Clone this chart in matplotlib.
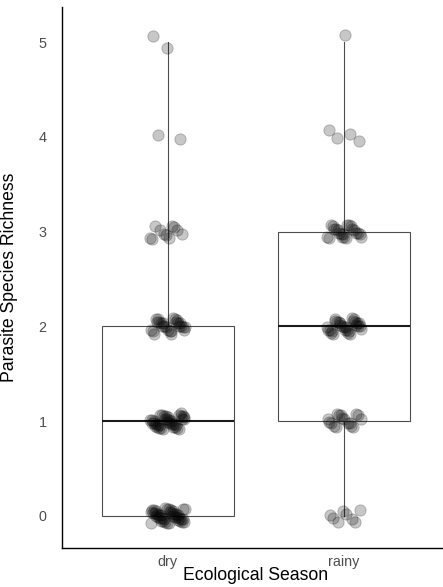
import numpy as np
import matplotlib
matplotlib.use("Agg")
import matplotlib.pyplot as plt

# Richness values and how many hosts had each, per season
seasons = ['dry', 'rainy']
richness_levels = [0, 1, 2, 3, 4, 5]
dry_counts = [42, 38, 27, 11, 2, 2]
rainy_counts = [8, 17, 30, 22, 4, 1]

plt.rcParams['font.family'] = ['Liberation Sans', 'DejaVu Sans']

fig = plt.figure(figsize=(4.43, 5.87), dpi=100)
ax = fig.add_axes([62 / 443, 39 / 587, 387.6 / 443, 541 / 587])

jit_w = 0.1
jit_h = 0.085

samples = []
for k, counts in enumerate([dry_counts, rainy_counts]):
    vals = np.repeat(richness_levels, counts)
    samples.append(vals)

# boxplot first, points on top
ax.boxplot(samples, positions=[1, 2], widths=0.75, whis=1.5, showcaps=False,
           showfliers=False, patch_artist=True,
           boxprops=dict(facecolor='white', edgecolor='#4d4d4d', linewidth=0.8),
           whiskerprops=dict(color='#4d4d4d', linewidth=0.8),
           medianprops=dict(color='#1a1a1a', linewidth=1.5), zorder=1)

# quasi-random jitter (deterministic)
for k, vals in enumerate(samples):
    n = len(vals)
    idx = np.arange(n)
    fx = (idx * 0.6180339887 + 0.31 + 0.17 * k) % 1.0
    fy = (idx * 0.7548776662 + 0.53 + 0.29 * k) % 1.0
    xs = (k + 1) + jit_w * (2 * fx - 1)
    ys = vals + jit_h * (2 * fy - 1)
    ax.scatter(xs, ys, s=66, color='black', alpha=0.22, linewidths=0.7, zorder=3)

ax.set_xlim(0.4, 2.6)
ax.set_ylim(-0.34, 5.37)
ax.set_xticks([1, 2])
ax.set_xticklabels(seasons)
ax.set_yticks(richness_levels)

for s in ['top', 'right']:
    ax.spines[s].set_visible(False)
for s in ['left', 'bottom']:
    ax.spines[s].set_linewidth(1.0)
    ax.spines[s].set_color('black')

ax.tick_params(axis='y', length=0, pad=11, labelsize=10.4, labelcolor='#4d4d4d')
ax.tick_params(axis='x', length=0, pad=5, labelsize=10.4, labelcolor='#4d4d4d')

ax.set_xlabel('Ecological Season', fontsize=12.7)
ax.set_ylabel('Parasite Species Richness', fontsize=12.7)
ax.xaxis.set_label_coords(0.5, -0.036)
ax.yaxis.set_label_coords(-0.1148, 0.5)

fig.savefig('out.png', dpi=100)
